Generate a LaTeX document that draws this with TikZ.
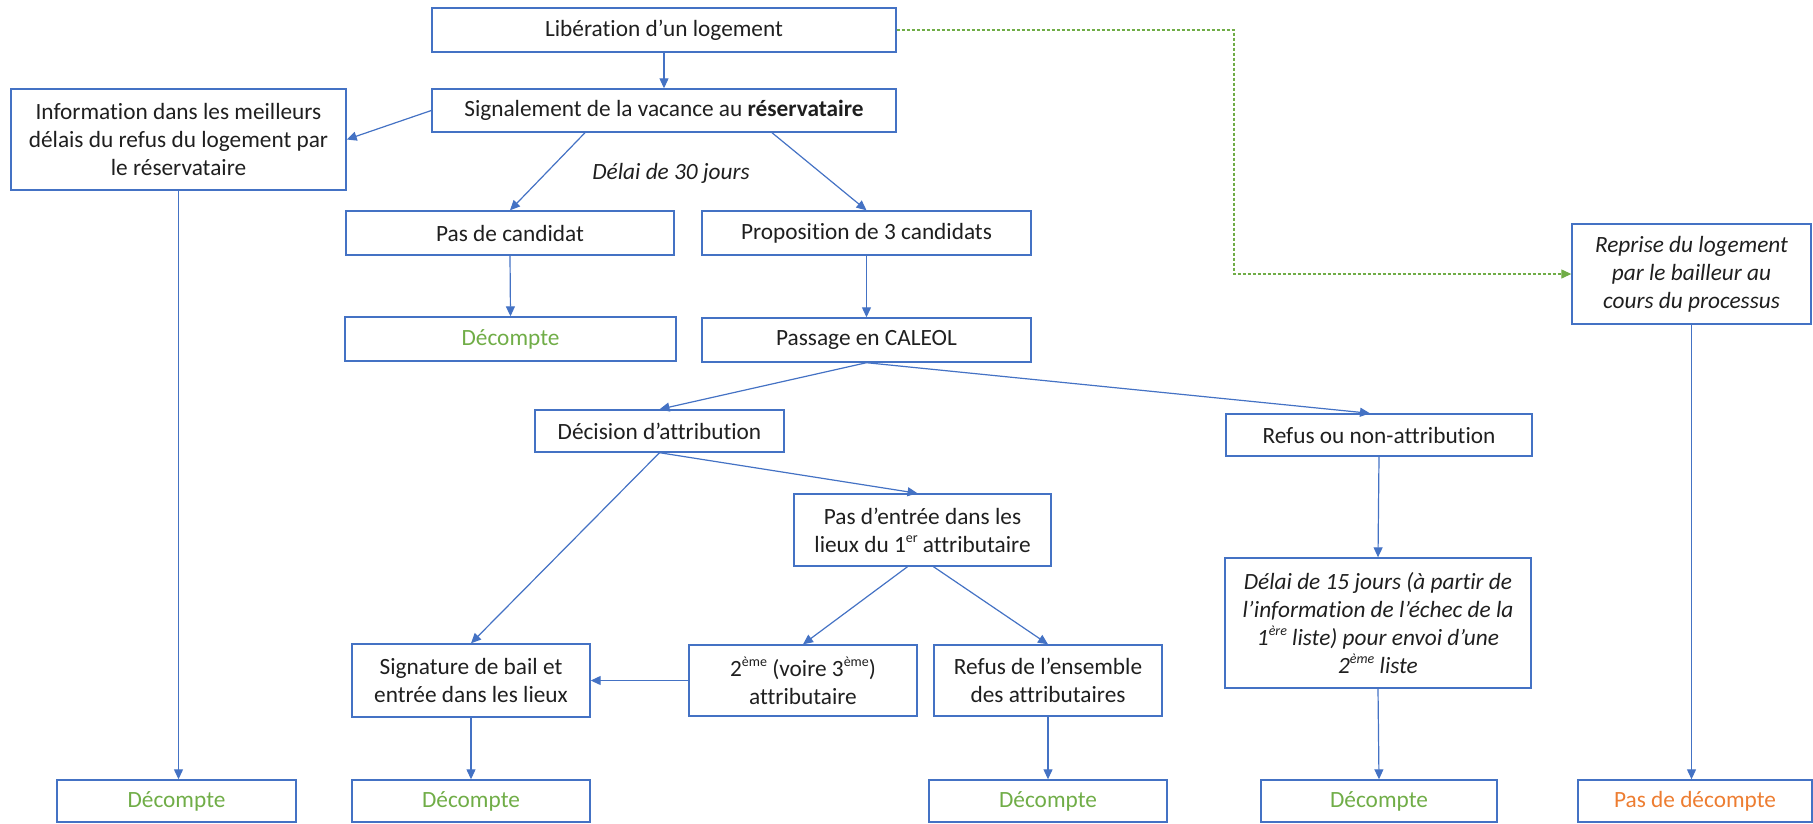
\documentclass[tikz,border=0pt]{standalone}
\usepackage{fontspec}
\setmainfont{Carlito}[Ligatures=NoCommon]
\usetikzlibrary{arrows.meta,calc}
\definecolor{obl}{HTML}{4472C4}
\definecolor{ogr}{HTML}{70AD47}
\definecolor{oor}{HTML}{ED7D31}
\newcommand{\supx}[1]{\raisebox{0.42em}{\fontsize{14}{14}\selectfont #1}}
\begin{document}
\begin{tikzpicture}[x=1pt,y=-1pt,
  box/.style={draw=obl,line width=1.4pt,inner sep=2pt,align=center,
    font=\fontsize{23.3}{28}\selectfont,text=black!88},
  conn/.style={draw=obl,line width=1.2pt,-{Triangle[length=10pt,width=9pt]}},
  green/.style={text=ogr},
  orange/.style={text=oor}]
\useasboundingbox (0,0) rectangle (1813,823);

\node[box,minimum width=464pt,minimum height=44pt] (lib) at (664,30) {Libération d’un logement};
\node[box,minimum width=464pt,minimum height=43pt] (sig) at (664,110.5) {Signalement de la vacance au \textbf{réservataire}};
\node[box,minimum width=335pt,minimum height=101pt] (info) at (178.5,139.5) {Information dans les meilleurs\\délais du refus du logement par\\le réservataire};
\node[font=\fontsize{23.3}{28}\selectfont\itshape,text=black!88,inner sep=0pt] (d30) at (671,173) {Délai de 30 jours};
\node[box,minimum width=328pt,minimum height=44pt] (pasc) at (510,233) {Pas de candidat};
\node[box,minimum width=329pt,minimum height=44pt] (prop) at (866.5,233) {Proposition de 3 candidats};
\node[box,green,minimum width=331pt,minimum height=44pt] (dec0) at (510.5,339) {Décompte};
\node[box,minimum width=329pt,minimum height=44pt] (cal) at (866.5,340) {Passage en CALEOL};
\node[box,minimum width=239pt,minimum height=100pt,font=\fontsize{23.3}{28}\selectfont\itshape] (rep) at (1691.5,274) {Reprise du logement\\par le bailleur au\\cours du processus};
\node[box,minimum width=249pt,minimum height=42pt] (decis) at (659.5,431) {Décision d’attribution};
\node[box,minimum width=306pt,minimum height=42pt] (refus) at (1379,435) {Refus ou non-attribution};
\node[box,minimum width=257pt,minimum height=72pt] (pasent) at (922.5,530) {Pas d’entrée dans les\\lieux du 1\supx{er} attributaire};
\node[box,minimum width=306pt,minimum height=130pt,font=\fontsize{23.3}{28}\selectfont\itshape] (d15) at (1378,623) {Délai de 15 jours (à partir de\\l’information de l’échec de la\\1\supx{ère} liste) pour envoi d’une\\2\supx{ème} liste};
\node[box,minimum width=238pt,minimum height=73pt] (sign) at (471,680.5) {Signature de bail et\\entrée dans les lieux};
\node[box,minimum width=228pt,minimum height=71pt] (deux) at (803,680.5) {2\supx{ème} (voire 3\supx{ème})\\attributaire};
\node[box,minimum width=228pt,minimum height=71pt] (refens) at (1048,680.5) {Refus de l’ensemble\\des attributaires};
\node[box,green,minimum width=239pt,minimum height=42pt] (da) at (176.5,801) {Décompte};
\node[box,green,minimum width=238pt,minimum height=42pt] (db) at (471,801) {Décompte};
\node[box,green,minimum width=238pt,minimum height=42pt] (dc) at (1048,801) {Décompte};
\node[box,green,minimum width=236pt,minimum height=42pt] (dd) at (1379,801) {Décompte};
\node[box,orange,minimum width=234pt,minimum height=42pt] (de) at (1695,801) {Pas de décompte};

\coordinate (g1) at (1234,150);

\draw[conn] (lib.south) -- (sig.north);
\draw[conn] (sig.west) -- (info.east);
\draw[conn] ([xshift=-79pt]sig.south) -- (pasc.north);
\draw[conn] ([xshift=108pt]sig.south) -- (prop.north);
\draw[conn] (pasc.south) -- (dec0.north);
\draw[conn] (prop.south) -- (cal.north);
\draw[conn] (cal.south) -- (decis.north);
\draw[conn] (cal.south) -- ([xshift=-9pt]refus.north);
\draw[conn] (decis.south) -- (sign.north);
\draw[conn] (decis.south) -- ([xshift=-5pt]pasent.north);
\draw[conn] ([xshift=-15pt]pasent.south) -- (deux.north);
\draw[conn] ([xshift=11pt]pasent.south) -- (refens.north);
\draw[conn] (deux.west) -- (sign.east);
\draw[conn] (refus.south) -- (d15.north);
\draw[conn] (sign.south) -- (db.north);
\draw[conn] (refens.south) -- (dc.north);
\draw[conn] (d15.south) -- (dd.north);
\draw[conn] (info.south) -- (info.south |- da.north);
\draw[conn] (rep.south) -- (rep.south |- de.north);
\draw[draw=ogr,line width=1.2pt,dash pattern=on 3pt off 2pt,-{Triangle[length=10pt,width=9pt]}]
  (lib.east) -| (g1) |- (rep.west);
\end{tikzpicture}
\end{document}
